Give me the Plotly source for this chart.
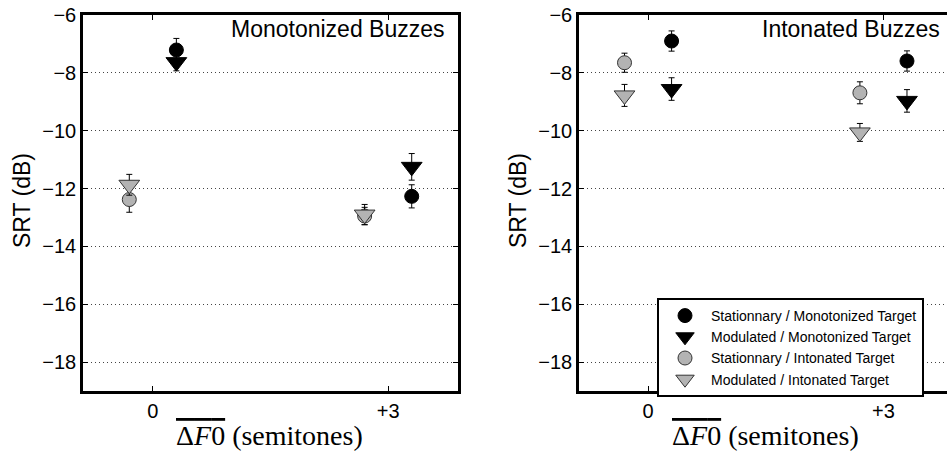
import plotly.graph_objects as go

# Nominal F0-difference conditions (semitones) and the horizontal dodge per target type
conditions = [0, 3]
dodge_monotonized = 0.3
dodge_intonated = -0.3

series_names = [
    "Stationnary / Monotonized Target",
    "Modulated / Monotonized Target",
    "Stationnary / Intonated Target",
    "Modulated / Intonated Target",
]

# Panel 1: Monotonized buzzes -- SRT (dB) and error half-widths, at conditions 0 and +3
mono_stat_mono = [-7.21, -12.27]
mono_stat_mono_err = [0.40, 0.40]
mono_mod_mono = [-7.63, -11.25]
mono_mod_mono_err = [0.30, 0.46]
mono_stat_into = [-12.38, -12.95]
mono_stat_into_err = [0.44, 0.30]
mono_mod_into = [-11.87, -12.90]
mono_mod_into_err = [0.36, 0.35]

# Panel 2: Intonated buzzes
into_stat_mono = [-6.90, -7.59]
into_stat_mono_err = [0.35, 0.35]
into_mod_mono = [-8.56, -8.97]
into_mod_mono_err = [0.39, 0.39]
into_stat_into = [-7.65, -8.69]
into_stat_into_err = [0.33, 0.38]
into_mod_into = [-8.78, -10.06]
into_mod_into_err = [0.38, 0.31]

y_ticks = [-18, -16, -14, -12, -10, -8, -6]
y_ticktext = ["\u2212" + str(-v) for v in y_ticks]
x_ticks = [0, 3]
x_ticktext = ["0", "+3"]

BLACK = "#000000"
GREY = "#b3b3b3"
SANS = "Liberation Sans, Arial, sans-serif"
SERIF = "Liberation Serif, Times New Roman, serif"

styles = [
    dict(symbol="circle", size=14, color=BLACK, line=dict(color=BLACK, width=1)),
    dict(symbol="triangle-down", size=18, color=BLACK, line=dict(color=BLACK, width=1)),
    dict(symbol="circle", size=14, color=GREY, line=dict(color="#333333", width=1)),
    dict(symbol="triangle-down", size=18, color=GREY, line=dict(color="#333333", width=1)),
]
dodges = [dodge_monotonized, dodge_monotonized, dodge_intonated, dodge_intonated]

panels = [
    (
        "x", "y",
        [mono_stat_mono, mono_mod_mono, mono_stat_into, mono_mod_into],
        [mono_stat_mono_err, mono_mod_mono_err, mono_stat_into_err, mono_mod_into_err],
        False,
    ),
    (
        "x2", "y2",
        [into_stat_mono, into_mod_mono, into_stat_into, into_mod_into],
        [into_stat_mono_err, into_mod_mono_err, into_stat_into_err, into_mod_into_err],
        True,
    ),
]

fig = go.Figure()
for xa, ya, values, errors, show in panels:
    for name, vals, errs, style, dx in zip(series_names, values, errors, styles, dodges):
        fig.add_trace(
            go.Scatter(
                x=[c + dx for c in conditions],
                y=vals,
                mode="markers",
                name=name,
                marker=style,
                error_y=dict(type="data", array=errs, visible=True,
                             color=BLACK, thickness=1, width=3),
                xaxis=xa,
                yaxis=ya,
                showlegend=show,
            )
        )

W, H = 947, 458
left_px = (83, 458)
right_px = (579, 947)
top_px, bottom_px = 15, 391

def px_x(p):
    return p / W

def px_y(p):
    return 1 - p / H

common_y = dict(
    range=[-19, -6],
    tickvals=y_ticks,
    ticktext=y_ticktext,
    ticks="inside",
    ticklen=5,
    tickwidth=1,
    tickcolor=BLACK,
    showline=True,
    linecolor=BLACK,
    linewidth=2.5,
    showgrid=True,
    gridcolor="#444444",
    gridwidth=1,
    griddash="1px,3px",
    zeroline=False,
    tickfont=dict(family=SANS, size=20, color=BLACK),
    domain=[px_y(bottom_px), px_y(top_px)],
)
common_x = dict(
    tickvals=x_ticks,
    ticktext=x_ticktext,
    ticks="inside",
    ticklen=5,
    tickwidth=1,
    tickcolor=BLACK,
    showline=True,
    linecolor=BLACK,
    linewidth=2.5,
    showgrid=False,
    zeroline=False,
    mirror="ticks",
    tickfont=dict(family=SANS, size=20, color=BLACK),
)

fig.update_layout(
    width=W,
    height=H,
    margin=dict(l=0, r=0, t=0, b=0, autoexpand=False),
    paper_bgcolor="white",
    plot_bgcolor="white",
    xaxis=dict(common_x, range=[-0.89, 3.89], domain=[px_x(left_px[0]), px_x(left_px[1])], anchor="y"),
    yaxis=dict(common_y, mirror="ticks", anchor="x"),
    xaxis2=dict(common_x, range=[-0.88, 3.81], domain=[px_x(right_px[0]), 1.0], anchor="y2"),
    yaxis2=dict(common_y, mirror=False, anchor="x2"),
    legend=dict(
        x=px_x(657),
        y=px_y(298),
        xanchor="left",
        yanchor="top",
        bgcolor="white",
        bordercolor=BLACK,
        borderwidth=2,
        font=dict(family=SANS, size=14, color=BLACK),
        itemwidth=42,
        tracegroupgap=0,
    ),
    showlegend=True,
)

annotations = [
    dict(text="Monotonized Buzzes", x=px_x(447), y=px_y(29), xanchor="right", yanchor="middle",
         font=dict(family=SANS, size=23, color=BLACK)),
    dict(text="Intonated Buzzes", x=px_x(942), y=px_y(29), xanchor="right", yanchor="middle",
         font=dict(family=SANS, size=23, color=BLACK)),
    dict(text="SRT (dB)", x=px_x(22), y=px_y(201), textangle=-90, xanchor="center", yanchor="middle",
         font=dict(family=SANS, size=23, color=BLACK)),
    dict(text="SRT (dB)", x=px_x(518), y=px_y(201), textangle=-90, xanchor="center", yanchor="middle",
         font=dict(family=SANS, size=23, color=BLACK)),
]
xtitle = "<span style='text-decoration:overline'>\u0394<i>F</i>0</span> (semitones)"
for cx in (269, 765):
    annotations.append(
        dict(text=xtitle, x=px_x(cx), y=px_y(435), xanchor="center", yanchor="middle",
             font=dict(family=SERIF, size=28, color=BLACK))
    )
for a in annotations:
    a.update(xref="paper", yref="paper", showarrow=False)
fig.update_layout(annotations=annotations)

fig.write_html("out.html")
